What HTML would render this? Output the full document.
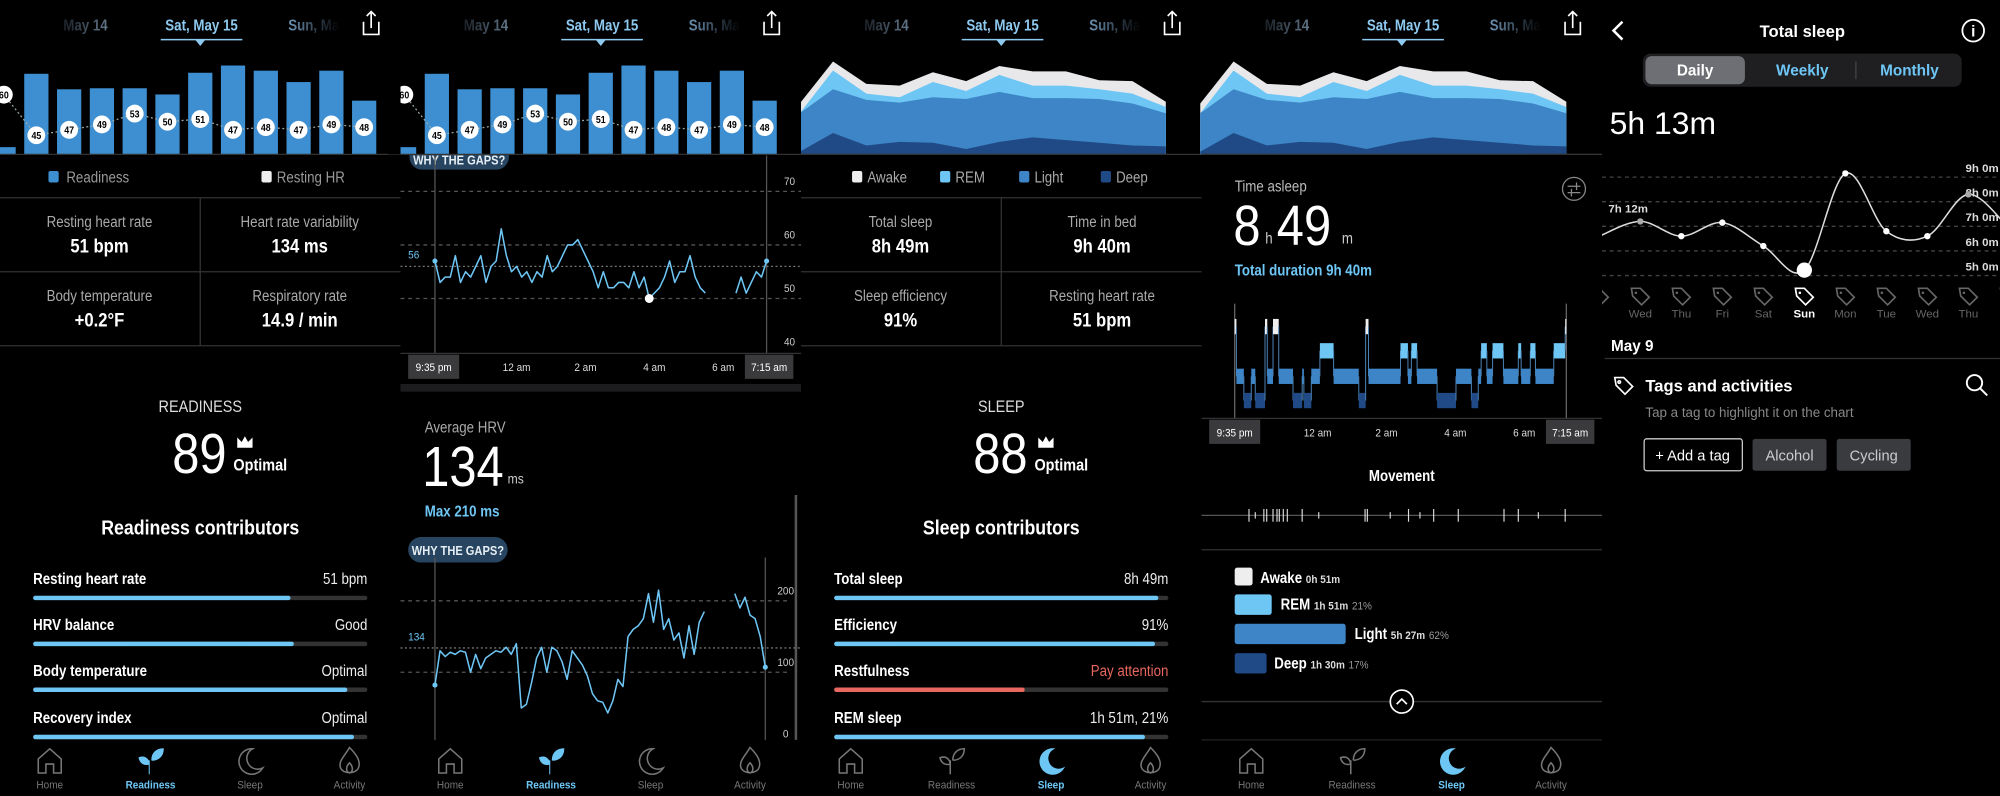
<!DOCTYPE html>
<html><head><meta charset="utf-8"><style>
html,body{margin:0;padding:0;background:#000;width:2000px;height:796px;overflow:hidden}
svg{display:block}
text{font-family:"Liberation Sans Narrow","Liberation Sans",sans-serif}
.p5 text{font-family:"Liberation Sans",sans-serif}
</style></head><body>
<svg id="root" width="2000" height="796" viewBox="0 0 1568 624" xmlns="http://www.w3.org/2000/svg">
<rect x="0" y="0" width="1568" height="624" fill="#000"/>
<defs>
<linearGradient id="fadeR" x1="0" x2="1" y1="0" y2="0"><stop offset="0" stop-color="#6f93b3"/><stop offset="1" stop-color="#000"/></linearGradient>
<linearGradient id="fadeL" x1="0" x2="1" y1="0" y2="0"><stop offset="0" stop-color="#1a2026"/><stop offset="1" stop-color="#62778a"/></linearGradient>
<clipPath id="c5"><rect x="1256" y="0" width="312" height="624"/></clipPath>
</defs>
<g id="layer"></g>

<!-- Panel 1 static -->
<g>
<rect x="38" y="134" width="8" height="9" rx="1.5" fill="#3d8fd1"/>
<text x="52" y="143" font-size="12" fill="#9a9a9a">Readiness</text>
<rect x="205" y="134" width="8" height="9" rx="1.5" fill="#eee"/>
<text x="217" y="143" font-size="12" fill="#9a9a9a">Resting HR</text>
<g stroke="#333" stroke-width="1"><line x1="0" y1="155" x2="314" y2="155"/><line x1="0" y1="213" x2="314" y2="213"/><line x1="0" y1="271" x2="314" y2="271"/><line x1="157" y1="155" x2="157" y2="271"/></g>
<g text-anchor="middle">
<text x="78" y="178" font-size="12" fill="#aaa">Resting heart rate</text>
<text x="78" y="198" font-size="15" font-weight="bold" fill="#fff">51 bpm</text>
<text x="235" y="178" font-size="12" fill="#aaa">Heart rate variability</text>
<text x="235" y="198" font-size="15" font-weight="bold" fill="#fff">134 ms</text>
<text x="78" y="236" font-size="12" fill="#aaa">Body temperature</text>
<text x="78" y="256" font-size="15" font-weight="bold" fill="#fff">+0.2°F</text>
<text x="235" y="236" font-size="12" fill="#aaa">Respiratory rate</text>
<text x="235" y="256" font-size="15" font-weight="bold" fill="#fff">14.9 / min</text>
<text x="157" y="323" font-size="13" fill="#ddd">READINESS</text>
<text x="157" y="419" font-size="16" font-weight="bold" fill="#fff">Readiness contributors</text>
</g>
<text x="135" y="371" font-size="44" fill="#fff">89</text>
<polygon points="186,351 186,343 189.5,346.5 192,342 194.5,346.5 198,343 198,351" fill="#fff"/>
<text x="183" y="369" font-size="13" font-weight="bold" fill="#fff">Optimal</text>
</g>

<!-- Panel 2 static -->
<g>
<rect x="321" y="112" width="78" height="21" rx="10" fill="#274560"/>
<text x="360" y="129" font-size="10" font-weight="bold" fill="#e6eef5" text-anchor="middle">WHY THE GAPS?</text>
<g id="hrChart"></g>
<rect x="314" y="301" width="314" height="6" fill="#1c1c1e"/>
<text x="333" y="339" font-size="12" fill="#aaa">Average HRV</text>
<text x="331" y="381" font-size="44" fill="#fff">134</text>
<text x="398" y="379" font-size="11" fill="#ccc">ms</text>
<text x="333" y="405" font-size="12" font-weight="bold" fill="#6ec6f5">Max 210 ms</text>
<rect x="320" y="421" width="78" height="20" rx="10" fill="#274560"/>
<text x="359" y="435" font-size="10" font-weight="bold" fill="#e6eef5" text-anchor="middle">WHY THE GAPS?</text>
<line x1="624" y1="388" x2="624" y2="580" stroke="#555" stroke-width="2"/>
<g id="hrvChart"></g>
</g>

<!-- Panel 3 static -->
<g>
<g font-size="12" fill="#aaa">
<rect x="668" y="134" width="8" height="9" rx="1.5" fill="#eee"/><text x="680" y="143">Awake</text>
<rect x="737" y="134" width="8" height="9" rx="1.5" fill="#6ec6f5"/><text x="749" y="143">REM</text>
<rect x="799" y="134" width="8" height="9" rx="1.5" fill="#3d85c6"/><text x="811" y="143">Light</text>
<rect x="863" y="134" width="8" height="9" rx="1.5" fill="#1f4a85"/><text x="875" y="143">Deep</text>
</g>
<g stroke="#333" stroke-width="1"><line x1="628" y1="155" x2="942" y2="155"/><line x1="628" y1="213" x2="942" y2="213"/><line x1="628" y1="271" x2="942" y2="271"/><line x1="785" y1="155" x2="785" y2="271"/></g>
<g text-anchor="middle">
<text x="706" y="178" font-size="12" fill="#aaa">Total sleep</text>
<text x="706" y="198" font-size="15" font-weight="bold" fill="#fff">8h 49m</text>
<text x="864" y="178" font-size="12" fill="#aaa">Time in bed</text>
<text x="864" y="198" font-size="15" font-weight="bold" fill="#fff">9h 40m</text>
<text x="706" y="236" font-size="12" fill="#aaa">Sleep efficiency</text>
<text x="706" y="256" font-size="15" font-weight="bold" fill="#fff">91%</text>
<text x="864" y="236" font-size="12" fill="#aaa">Resting heart rate</text>
<text x="864" y="256" font-size="15" font-weight="bold" fill="#fff">51 bpm</text>
<text x="785" y="323" font-size="13" fill="#ddd">SLEEP</text>
<text x="785" y="419" font-size="16" font-weight="bold" fill="#fff">Sleep contributors</text>
</g>
<text x="763" y="371" font-size="44" fill="#fff">88</text>
<polygon points="814,351 814,343 817.5,346.5 820,342 822.5,346.5 826,343 826,351" fill="#fff"/>
<text x="811" y="369" font-size="13" font-weight="bold" fill="#fff">Optimal</text>
</g>

<!-- Panel 4 static -->
<g>
<line x1="1201" y1="121" x2="1256" y2="121" stroke="#333"/>
<text x="968" y="150" font-size="12" fill="#bbb">Time asleep</text>
<g stroke="#888" fill="none" stroke-width="1"><circle cx="1234" cy="148" r="9"/><line x1="1229" y1="146" x2="1239" y2="146"/><line x1="1229" y1="151" x2="1239" y2="151"/><line x1="1236" y1="143" x2="1236" y2="149"/><line x1="1232" y1="148" x2="1232" y2="154"/></g>
<text x="967" y="192" font-size="44" fill="#fff">8</text>
<text x="992" y="191" font-size="12" fill="#ccc">h</text>
<text x="1001" y="192" font-size="44" fill="#fff">49</text>
<text x="1052" y="191" font-size="12" fill="#ccc">m</text>
<text x="968" y="216" font-size="12" font-weight="bold" fill="#6ec6f5">Total duration 9h 40m</text>
<g id="hypno"></g>
<text x="1099" y="377" font-size="12" font-weight="bold" fill="#fff" text-anchor="middle">Movement</text>
<g id="movement"></g>
<line x1="942" y1="431" x2="1256" y2="431" stroke="#333"/>
<rect x="968" y="445" width="14" height="14" rx="2" fill="#eee"/>
<text x="988" y="457" font-size="12" font-weight="bold" fill="#fff">Awake <tspan font-size="9" fill="#ddd">0h 51m</tspan></text>
<rect x="968" y="466" width="29" height="16" rx="2" fill="#6ec6f5"/>
<text x="1004" y="478" font-size="12" font-weight="bold" fill="#fff">REM <tspan font-size="9" fill="#ddd">1h 51m</tspan> <tspan font-size="9" font-weight="normal" fill="#999">21%</tspan></text>
<rect x="968" y="489" width="87" height="16" rx="2" fill="#3d85c6"/>
<text x="1062" y="501" font-size="12" font-weight="bold" fill="#fff">Light <tspan font-size="9" fill="#ddd">5h 27m</tspan> <tspan font-size="9" font-weight="normal" fill="#999">62%</tspan></text>
<rect x="968" y="512" width="25" height="16" rx="2" fill="#1f4a85"/>
<text x="999" y="524" font-size="12" font-weight="bold" fill="#fff">Deep <tspan font-size="9" fill="#ddd">1h 30m</tspan> <tspan font-size="9" font-weight="normal" fill="#999">17%</tspan></text>
<line x1="942" y1="550" x2="1256" y2="550" stroke="#333"/>
<g><circle cx="1099" cy="550" r="9" fill="#000" stroke="#fff" stroke-width="1.3"/><polyline points="1095,552 1099,548 1103,552" fill="none" stroke="#fff" stroke-width="1.3"/></g>
<line x1="942" y1="580" x2="1256" y2="580" stroke="#222"/>
</g>

<!-- Panel 5 -->
<g class="p5">
<polyline points="1272,17 1265,24 1272,31" fill="none" stroke="#fff" stroke-width="2"/>
<text x="1413" y="29" font-size="13" font-weight="bold" fill="#fff" text-anchor="middle">Total sleep</text>
<g><circle cx="1547" cy="24" r="8.5" fill="none" stroke="#fff" stroke-width="1.4"/><text x="1547" y="28.5" font-size="12" font-weight="bold" fill="#fff" text-anchor="middle">i</text></g>
<rect x="1288" y="42" width="250" height="26" rx="6" fill="#1f1f22"/>
<rect x="1290" y="44" width="78" height="22" rx="5" fill="#6e6f74"/>
<text x="1329" y="59" font-size="12" font-weight="bold" fill="#fff" text-anchor="middle">Daily</text>
<text x="1413" y="59" font-size="12" font-weight="bold" fill="#6ec6f5" text-anchor="middle">Weekly</text>
<line x1="1455" y1="48" x2="1455" y2="62" stroke="#444"/>
<text x="1497" y="59" font-size="12" font-weight="bold" fill="#6ec6f5" text-anchor="middle">Monthly</text>
<text x="1262" y="105" font-size="25" fill="#fff">5h 13m</text>
<g id="trend" clip-path="url(#c5)"></g>
<text x="1263" y="275" font-size="12" font-weight="bold" fill="#fff">May 9</text>
<line x1="1258" y1="281" x2="1568" y2="281" stroke="#333"/>
<g fill="none" stroke="#fff" stroke-width="1.3"><path d="M1266,296 H1273 L1280,303 L1274,309 L1267,302 Z"/><circle cx="1269.5" cy="299.5" r="1"/></g>
<text x="1290" y="307" font-size="13" font-weight="bold" fill="#fff">Tags and activities</text>
<g fill="none" stroke="#fff" stroke-width="1.5"><circle cx="1548" cy="300" r="6"/><line x1="1552.5" y1="304.5" x2="1558" y2="310"/></g>
<text x="1290" y="327" font-size="10.5" fill="#888">Tap a tag to highlight it on the chart</text>
<rect x="1289" y="344" width="77" height="25" rx="2" fill="none" stroke="#ccc"/>
<text x="1327" y="361" font-size="11.5" fill="#fff" text-anchor="middle">+ Add a tag</text>
<rect x="1374" y="344" width="58" height="25" rx="2" fill="#3a3b3f"/>
<text x="1403" y="361" font-size="11.5" fill="#ccc" text-anchor="middle">Alcohol</text>
<rect x="1440" y="344" width="58" height="25" rx="2" fill="#3a3b3f"/>
<text x="1469" y="361" font-size="11.5" fill="#ccc" text-anchor="middle">Cycling</text>
</g>
<g id="top"></g>
</svg>
<script>
var NS='http://www.w3.org/2000/svg';
var root=document.getElementById('layer');
var topLayer=document.getElementById('top');
function mk(tag,attrs,parent){var e=document.createElementNS(NS,tag);for(var k in attrs)e.setAttribute(k,attrs[k]);(parent||root).appendChild(e);return e;}

// ---------- data ----------
var readinessScores=[7,78,63,64,64,58,79,86,81,70,81,52];
var restingHR=[60,45,47,49,53,50,51,47,48,47,49,48];
var hrValues=[57,53,54,54,58,53,55,54,56,58,53,56,57,63,58,55,56,54,55,53,55,54,58,55,56,58,60,60,61,59,57,55,52,55,52,52,53,53,52,55,52,54,50,51,52,54,57,53,55,55,58,54,52,51,null,null,null,null,null,51,54,51,53,55,54,57];
var hrTicks=[70,60,50,40];
var hrAverage=56;
var hrvValues=[82,130,122,128,125,130,128,100,125,105,120,125,130,128,135,125,140,50,55,85,120,135,100,135,130,115,90,130,120,110,95,70,60,58,43,60,90,80,150,160,165,175,210,170,215,160,175,145,155,120,165,125,170,185,null,null,null,null,null,210,190,205,180,175,150,107];
var hrvTicks=[200,100,0];
var hrvAverage=134;
var timeLabels=['12 am','2 am','4 am','6 am'];
var deepHours=[0.3,2.4,1.0,1.4,1.3,0.6,1.4,1.9,1.6,1.3,1.0,0.9];
var lightHours=[4.3,4.9,5.1,4.4,5.1,5.6,5.6,4.4,4.7,4.9,4.7,3.7];
var remHours=[0,2.1,0.7,0.6,1.7,0.9,1.9,1.4,1.4,1.1,1.1,0.7];
var awakeHours=[1.1,1.0,1.1,1.3,1.1,1.1,1.0,1.6,1.6,1.0,1.4,0.6];
var hypnoStages=[0,2,3,2,3,0,2,0,2,3,2,3,2,1,2,3,0,2,1,2,1,2,3,2,3,2,1,2,1,2,1,2,1,2,1,0];
var hypnoMinutes=[3,13,13,7,17,4,10,10,25,16,3,13,15,24,44,12,5,56,13,6,10,35,33,27,12,5,10,10,19,26,5,16,9,32,20,2];
var movementMinutes=[25,36,51,56,67,74,78,85,92,118,147,228,232,272,304,324,348,391,471,496,531,578];
var movementSize=[2,1,2,2,2,2,2,2,2,2,1,2,2,1,2,1,2,2,2,2,1,2];
var contribLabels1=['Resting heart rate','HRV balance','Body temperature','Recovery index'];
var contribValues1=['51 bpm','Good','Optimal','Optimal'];
var contribScores1=[77,78,94,96];
var contribLabels3=['Total sleep','Efficiency','Restfulness','REM sleep'];
var contribValues3=['8h 49m','91%','Pay attention','1h 51m, 21%'];
var contribScores3=[97,96,57,93];
var trendDays=['','Wed','Thu','Fri','Sat','Sun','Mon','Tue','Wed','Thu',''];
var trendHours=[6.6,7.2,6.6,7.15,6.2,5.22,9.15,6.8,6.6,8.3,6.9];
var trendTicks=[9,8,7,6,5];

// ---------- headers + nav ----------
function header(ox){
  var g=mk('g',{});
  
  
  var t1=mk('text',{x:ox+67,y:24,'font-size':12,'font-weight':'bold',fill:'url(#fadeL)','text-anchor':'middle'},g);t1.textContent='May 14';
  
  
  var t2=mk('text',{x:ox+158,y:24,'font-size':12,'font-weight':'bold',fill:'#8ec9f0','text-anchor':'middle'},g);t2.textContent='Sat, May 15';
  
  
  mk('line',{x1:ox+126,y1:31,x2:ox+190,y2:31,stroke:'#8ec9f0','stroke-width':1.2},g);
  mk('polygon',{points:(ox+153)+',31 '+(ox+161)+',31 '+(ox+157)+',36',fill:'#8ec9f0'},g);
  var t3=mk('text',{x:ox+226,y:24,'font-size':12,'font-weight':'bold',fill:'url(#fadeR)'},g);t3.textContent='Sun, Ma';
  
  
  var s=mk('path',{d:'M'+(ox+285)+',17 V27 H'+(ox+297)+' V17 M'+(ox+291)+',22 V9 M'+(ox+287.5)+',12.5 L'+(ox+291)+',9 L'+(ox+294.5)+',12.5',fill:'none',stroke:'#fff','stroke-width':1.3},g);
  
  
}
function nav(ox,active){
  var names=['Home','Readiness','Sleep','Activity'];
  var xs=[39,118,196,274];
  for(var i=0;i<4;i++){
    var cx=ox+xs[i],c=(i===active)?'#6ec6f5':'#777';
    var g=mk('g',{transform:'translate('+cx+',597)'});
    
    
    var d;
    if(i===0)d='M-9,9 V-2 L0,-10 L9,-2 V9 H3 V2 H-3 V9 Z';
    if(i===1)d='M-1,10 V-1 M-1,2 C-2,-4 -6,-4 -9,-3 C-8,2 -4,3 -1,2 M1,-1 C1,-7 5,-10 10,-10 C10,-4 6,-1 1,-1';
    if(i===2)d='M2,-10 A10,10 0 1,0 10,5 A8,8 0 0,1 2,-10 Z';
    if(i===3)d='M0,-11 C6,-5 9,0 7,5 C5,10 -5,10 -7,5 C-9,0 -4,-4 0,-11 Z M0,9 C-3,8 -3,4 0,1 C3,4 3,8 0,9 Z';
    var filled=(i===active);
    mk('path',{d:d,fill:filled?c:'none',stroke:c,'stroke-width':filled?0.8:1.2},g);
    var t=mk('text',{x:0,y:21,'font-size':9,'text-anchor':'middle',fill:c,'font-weight':filled?'bold':'normal'},g);t.textContent=names[i];
  }
}
header(0);header(314);header(628);header(942);
nav(0,1);nav(314,1);nav(628,2);nav(942,2);

// ---------- readiness bar chart ----------
function readinessChart(ox){
  var g=mk('g',{},topLayer);
  
  
  var base=121,top=40,x0=ox-6.7,step=25.7,bw=19;
  function bx(i){return x0+i*step;}
  function by(v){return base-(v/100)*(base-top);}
  function hy(v){return 106-(v-45)*2.12;}
  mk('rect',{x:ox,y:38,width:314,height:83,fill:'#000'},g);
  for(var i=0;i<readinessScores.length;i++){
    var r=mk('rect',{x:Math.max(bx(i),ox),y:by(readinessScores[i]),width:Math.max(0,bx(i)+bw-Math.max(bx(i),ox)),height:base-by(readinessScores[i]),fill:'#3d8fd1'},g);
    
    
  }
  function cx(j){return j===0?ox+3:bx(j)+bw/2;}
  var pts=[];
  for(var j=0;j<restingHR.length;j++)pts.push(cx(j)+','+hy(restingHR[j]));
  mk('polyline',{points:pts.join(' '),fill:'none',stroke:'#9aa','stroke-width':1,'stroke-dasharray':'1.5,2'},g);
  for(var k=0;k<restingHR.length;k++){
    var cy=hy(restingHR[k]);
    var c=mk('circle',{cx:cx(k),cy:cy,r:7,fill:'#fff'},g);
    
    
    var t=mk('text',{x:cx(k),y:cy+3,'font-size':8,'font-weight':'bold','text-anchor':'middle',fill:'#000'},g);t.textContent=restingHR[k];
  }
  mk('rect',{x:ox-10,y:38,width:10,height:83,fill:'#000'},g);
  mk('line',{x1:ox,y1:121,x2:ox+314,y2:121,stroke:'#333'},g);
}
readinessChart(0);readinessChart(314);

// ---------- contributors ----------
function contributors(ox,labels,values,scores,redIdx){
  var rows=[454,490,526,563];
  for(var i=0;i<4;i++){
    var g=mk('g',{});
    
    
    var red=(i===redIdx);
    var a=mk('text',{x:ox+26,y:rows[i]+4,'font-size':12,'font-weight':'bold',fill:'#fff'},g);a.textContent=labels[i];
    var b=mk('text',{x:ox+288,y:rows[i]+4,'font-size':12,fill:red?'#e8675e':'#eee','text-anchor':'end'},g);b.textContent=values[i];
    mk('rect',{x:ox+26,y:rows[i]+13,width:262,height:3.5,rx:1.7,fill:'#333'},g);
    mk('rect',{x:ox+26,y:rows[i]+13,width:262*scores[i]/100,height:3.5,rx:1.7,fill:red?'#e8675e':'#6ec6f5'},g);
  }
}
contributors(0,contribLabels1,contribValues1,contribScores1,-1);
contributors(628,contribLabels3,contribValues3,contribScores3,2);

function timeAxis(g,ox,y){
  mk('line',{x1:ox,y1:y,x2:ox+314,y2:y,stroke:'#333'},g);
  mk('rect',{x:ox+6,y:y+1,width:40,height:19,fill:'#3a3a3c'},g);
  var a=mk('text',{x:ox+26,y:y+14,'font-size':9,fill:'#fff','text-anchor':'middle'},g);a.textContent='9:35 pm';
  
  
  var xs=[91,145,199,253];
  for(var i=0;i<timeLabels.length;i++){
    var t=mk('text',{x:ox+xs[i],y:y+14,'font-size':9,fill:'#ddd','text-anchor':'middle'},g);t.textContent=timeLabels[i];
    
    
  }
  mk('rect',{x:ox+270,y:y+1,width:38,height:19,fill:'#3a3a3c'},g);
  var b=mk('text',{x:ox+289,y:y+14,'font-size':9,fill:'#fff','text-anchor':'middle'},g);b.textContent='7:15 am';
  
  
}

// ---------- HR chart (panel 2) ----------
(function(){
  var g=document.getElementById('hrChart');
  var x0=341,x1=601;
  function X(i){return x0+i*(x1-x0)/(hrValues.length-1);}
  function Y(v){return 192-(v-60)*4.2;}
  mk('line',{x1:x0,y1:122,x2:x0,y2:277,stroke:'#555'},g);
  mk('line',{x1:x1,y1:122,x2:x1,y2:277,stroke:'#555'},g);
  for(var t=0;t<hrTicks.length;t++){
    var yy=Y(hrTicks[t]);
    if(hrTicks[t]>40)mk('line',{x1:314,y1:yy,x2:628,y2:yy,stroke:'#555','stroke-dasharray':'3,3'},g);
    var tl=mk('text',{x:619,y:yy-5,'font-size':9,fill:'#ccc','text-anchor':'middle'},g);tl.textContent=hrTicks[t];
    
    
  }
  var ay=Y(hrAverage);
  mk('line',{x1:314,y1:ay,x2:628,y2:ay,stroke:'#777','stroke-dasharray':'1.5,2'},g);
  var al=mk('text',{x:320,y:ay-6,'font-size':9,fill:'#6ec6f5'},g);al.textContent=hrAverage;
  var d='',pen=false,minI=-1,minV=999;
  for(var i=0;i<hrValues.length;i++){
    var v=hrValues[i];
    if(v===null){pen=false;continue;}
    d+=(pen?'L':'M')+X(i).toFixed(1)+','+Y(v).toFixed(1)+' ';pen=true;
    if(v<minV){minV=v;minI=i;}
  }
  var p=mk('path',{d:d,fill:'none',stroke:'#6ec6f5','stroke-width':1.2,'stroke-linejoin':'round'},g);
  
  
  mk('circle',{cx:X(0),cy:Y(hrValues[0]),r:2,fill:'#6ec6f5'},g);
  var last=hrValues.length-1;
  mk('circle',{cx:X(last),cy:Y(hrValues[last]),r:2,fill:'#6ec6f5'},g);
  var mc=mk('circle',{cx:X(minI),cy:Y(minV),r:3.5,fill:'#fff'},g);
  
  
  timeAxis(g,314,277);
})();

// ---------- HRV chart ----------
(function(){
  var g=document.getElementById('hrvChart');
  var x0=341,x1=600;
  function X(i){return x0+i*(x1-x0)/(hrvValues.length-1);}
  function Y(v){return 583-v*0.56;}
  mk('line',{x1:x0,y1:437,x2:x0,y2:580,stroke:'#555'},g);
  mk('line',{x1:x1,y1:437,x2:x1,y2:580,stroke:'#555'},g);
  for(var t=0;t<hrvTicks.length;t++){
    var yy=Y(hrvTicks[t]);
    if(hrvTicks[t]>0)mk('line',{x1:314,y1:yy,x2:620,y2:yy,stroke:'#555','stroke-dasharray':'3,3'},g);
    var tl=mk('text',{x:616,y:yy-5,'font-size':9,fill:'#ccc','text-anchor':'middle'},g);tl.textContent=hrvTicks[t];
    
    
  }
  var ay=Y(hrvAverage);
  mk('line',{x1:314,y1:ay,x2:628,y2:ay,stroke:'#777','stroke-dasharray':'1.5,2'},g);
  var al=mk('text',{x:320,y:ay-6,'font-size':9,fill:'#6ec6f5'},g);al.textContent=hrvAverage;
  var d='',pen=false;
  for(var i=0;i<hrvValues.length;i++){
    var v=hrvValues[i];
    if(v===null){pen=false;continue;}
    d+=(pen?'L':'M')+X(i).toFixed(1)+','+Y(v).toFixed(1)+' ';pen=true;
  }
  var p=mk('path',{d:d,fill:'none',stroke:'#6ec6f5','stroke-width':1.2,'stroke-linejoin':'round'},g);
  
  
  mk('circle',{cx:X(0),cy:Y(hrvValues[0]),r:2,fill:'#6ec6f5'},g);
  var last=hrvValues.length-1;
  mk('circle',{cx:X(last),cy:Y(hrvValues[last]),r:2,fill:'#6ec6f5'},g);
})();

// ---------- stacked area ----------
function areaChart(ox){
  var g=mk('g',{});
  
  
  var n=deepHours.length,x0=ox-1,x1=ox+286;
  function X(i){return x0+i*(x1-x0)/(n-1);}
  function Y(h){return 121-h*7;}
  var layers=[deepHours,lightHours,remHours,awakeHours];
  var colors=['#1f4a85','#3d85c6','#6ec6f5','#e8e8ea'];
  var names=['deep-area','light-area','rem-area','awake-area'];
  var cum=[];for(var i=0;i<n;i++)cum.push(0);
  var tops=[];
  for(var l=0;l<4;l++){var t=[];for(var i2=0;i2<n;i2++){cum[i2]+=layers[l][i2];t.push(cum[i2]);}tops.push(t);}
  for(var l2=3;l2>=0;l2--){
    var d='M'+X(0)+',121 ';
    for(var k=0;k<n;k++)d+='L'+X(k).toFixed(1)+','+Y(tops[l2][k]).toFixed(1)+' ';
    d+='L'+X(n-1)+',121 Z';
    var p=mk('path',{d:d,fill:colors[l2]},g);
    
    
  }
  mk('line',{x1:ox,y1:121,x2:ox+314,y2:121,stroke:'#333'},g);
}
areaChart(628);areaChart(942);

// ---------- hypnogram ----------
(function(){
  var g=document.getElementById('hypno');
  var x0=968,x1=1228,total=0;
  for(var i=0;i<hypnoMinutes.length;i++)total+=hypnoMinutes[i];
  function X(m){return x0+m*(x1-x0)/total;}
  var levelY=[250,269,289,308],levelC=['#eee','#6ec6f5','#3d85c6','#1f4a85'];
  mk('line',{x1:x0,y1:238,x2:x0,y2:328,stroke:'#666'},g);
  mk('line',{x1:x1,y1:238,x2:x1,y2:328,stroke:'#666'},g);
  var m=0,prev=null;
  for(var j=0;j<hypnoStages.length;j++){
    var s=hypnoStages[j],xa=X(m),xb=X(m+hypnoMinutes[j]);
    if(prev!==null){
      var ya=Math.min(levelY[prev],levelY[s])+6,yb=Math.max(levelY[prev],levelY[s])+6;
      mk('line',{x1:xa,y1:ya,x2:xa,y2:yb,stroke:'#4a7fb0','stroke-width':0.8},g);
    }
    var r=mk('rect',{x:xa,y:levelY[s],width:Math.max(0.8,xb-xa),height:12,fill:levelC[s]},g);
    
    
    m+=hypnoMinutes[j];prev=s;
  }
  timeAxis(g,942,328);
  var mv=document.getElementById('movement');
  mk('line',{x1:942,y1:404,x2:1256,y2:404,stroke:'#555'},mv);
  for(var k=0;k<movementMinutes.length;k++){
    var x=X(movementMinutes[k]),h=movementSize[k]===2?5:2.5;
    var tk=mk('line',{x1:x,y1:404-h,x2:x,y2:404+h,stroke:'#ddd','stroke-width':0.9},mv);
    
    
  }
})();

// ---------- total sleep trend ----------
(function(){
  var g=document.getElementById('trend');
  function X(i){return 1286+(i-1)*32.15;}
  function Y(h){return 216-(h-5)*19.3;}
  for(var t=0;t<trendTicks.length;t++){
    var yy=Y(trendTicks[t]);
    mk('line',{x1:1256,y1:yy,x2:1568,y2:yy,stroke:'#444','stroke-dasharray':'3,3'},g);
    var tl=mk('text',{x:1541,y:yy-4,'font-size':9,'font-weight':'bold',fill:'#ddd'},g);tl.textContent=trendTicks[t]+'h 0m';
    
    
  }
  var pts=[];for(var i=0;i<trendHours.length;i++)pts.push([X(i),Y(trendHours[i])]);
  var d='M'+pts[0][0]+','+pts[0][1];
  for(var j=0;j<pts.length-1;j++){
    var p0=pts[Math.max(0,j-1)],p1=pts[j],p2=pts[j+1],p3=pts[Math.min(pts.length-1,j+2)];
    d+=' C'+(p1[0]+(p2[0]-p0[0])/6).toFixed(1)+','+(p1[1]+(p2[1]-p0[1])/6).toFixed(1)+' '+(p2[0]-(p3[0]-p1[0])/6).toFixed(1)+','+(p2[1]-(p3[1]-p1[1])/6).toFixed(1)+' '+p2[0].toFixed(1)+','+p2[1].toFixed(1);
  }
  var c=mk('path',{d:d,fill:'none',stroke:'#ddd','stroke-width':1.2},g);
  
  
  for(var k=1;k<trendHours.length-1;k++){
    var sel=(trendDays[k]==='Sun');
    var pt=mk('circle',{cx:X(k),cy:Y(trendHours[k]),r:sel?6:2.5,fill:(k===1||k===9)?'#aaa':'#fff'},g);
    
    
  }
  var lb=mk('text',{x:1261,y:Y(trendHours[1])-7,'font-size':9,'font-weight':'bold',fill:'#ddd'},g);
  var hh=Math.floor(trendHours[1]),mm=Math.round((trendHours[1]-hh)*60);
  lb.textContent=hh+'h '+mm+'m';
  for(var q=0;q<trendDays.length;q++){
    var x=X(q),col=trendDays[q]==='Sun'?'#fff':'#666';
    var tg=mk('g',{transform:'translate('+x+',232)'},g);
    
    
    mk('path',{d:'M-7,-6 H0 L7,1 L1,7 L-6,0 Z',fill:'none',stroke:col,'stroke-width':1.3},tg);
    mk('circle',{cx:-3.5,cy:-2.5,r:1,fill:col},tg);
    if(trendDays[q]){
      var dl=mk('text',{x:0,y:17,'font-size':9,'text-anchor':'middle',fill:col,'font-weight':trendDays[q]==='Sun'?'bold':'normal'},tg);dl.textContent=trendDays[q];
    }
  }
})();

// ---------- condense text in Oura-style panels ----------
(function(){
  var all=document.querySelectorAll('#root text');
  for(var i=0;i<all.length;i++){
    var t=all[i];
    if(t.closest('.p5')||t.closest('#trend'))continue;
    var len=t.getComputedTextLength();
    if(len>0){t.setAttribute('textLength',(len*0.87).toFixed(1));t.setAttribute('lengthAdjust','spacingAndGlyphs');}
  }
})();
</script>
</body></html>
